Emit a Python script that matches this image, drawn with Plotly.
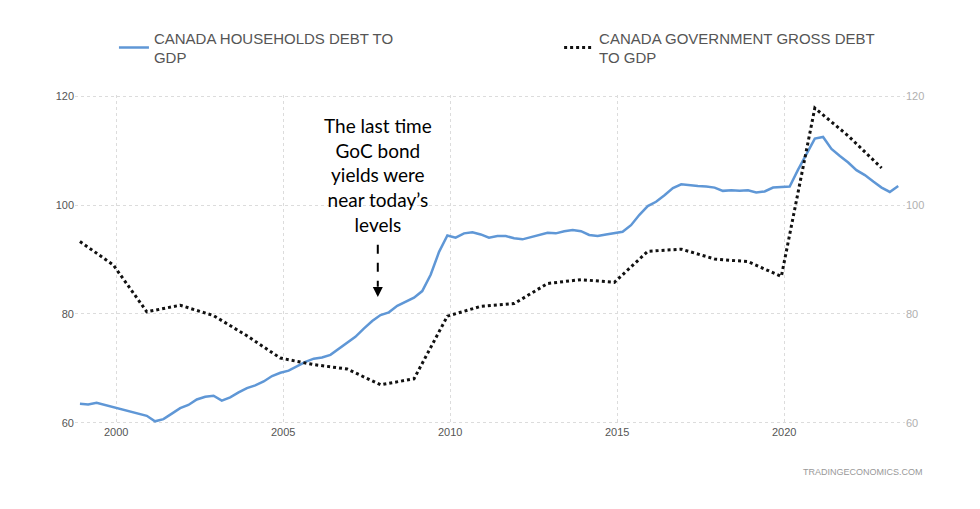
import pandas as pd
import plotly.graph_objects as go

# Canada households debt to GDP (quarterly, %)
household_start = "1998-12-01"
household_debt = [
    63.5, 63.4, 63.7, 63.3, 62.9, 62.5, 62.0, 61.6, 61.3, 60.3,
    60.7, 61.7, 62.7, 63.3, 64.3, 64.8, 65.0, 64.1, 64.7, 65.6,
    66.4, 66.9, 67.6, 68.6, 69.2, 69.6, 70.4, 71.2, 71.8, 72.0,
    72.5, 73.6, 74.8, 75.8, 77.3, 78.7, 79.8, 80.3, 81.5, 82.2,
    83.0, 84.2, 87.2, 91.4, 94.4, 94.0, 94.8, 95.0, 94.6, 94.0,
    94.3, 94.3, 93.9, 93.7, 94.1, 94.6, 94.9, 94.8, 95.2, 95.4,
    95.2, 94.5, 94.3, 94.6, 94.8, 95.1, 96.3, 98.2, 99.8, 100.6,
    101.8, 103.1, 103.8, 103.6, 103.5, 103.4, 103.2, 102.6, 102.7, 102.6,
    102.7, 102.3, 102.5, 103.2, 103.3, 103.4, 106.5, 109.5, 112.2, 112.5,
    110.3, 109.0, 107.8, 106.4, 105.5, 104.3, 103.2, 102.4, 103.5,
]
household_dates = pd.date_range(household_start, periods=len(household_debt), freq="3MS")

# Canada government gross debt to GDP (annual, %)
gov_years = list(range(1998, 2023))
gov_debt = [
    93.3, 89.0, 80.4, 81.6, 79.7, 76.0, 71.9, 70.7, 69.9, 67.0,
    68.1, 79.6, 81.4, 81.9, 85.6, 86.3, 85.8, 91.5, 91.9, 90.1,
    89.6, 86.9, 117.8, 112.7, 106.8,
]
gov_dates = [f"{y}-12-01" for y in gov_years]

y_ticks = [60, 80, 100, 120]
x_ticks = ["2000-01-01", "2005-01-01", "2010-01-01", "2015-01-01", "2020-01-01"]
x_tick_labels = ["2000", "2005", "2010", "2015", "2020"]

name_households = "CANADA HOUSEHOLDS DEBT TO<br>GDP"
name_gov = "CANADA GOVERNMENT GROSS DEBT<br>TO GDP"
note_text = "The last time<br>GoC bond<br>yields were<br>near today\u2019s<br>levels"
note_date = "2007-11-01"

fig = go.Figure()
fig.add_trace(go.Scatter(
    x=household_dates, y=household_debt, mode="lines", name=name_households,
    line=dict(color="#5f97d6", width=2.5), legend="legend",
))
fig.add_trace(go.Scatter(
    x=gov_dates, y=gov_debt, mode="lines", name=name_gov,
    line=dict(color="#111111", width=3, dash="dot"), yaxis="y2", legend="legend2",
))

grid = dict(showgrid=True, gridcolor="#dcdcdc", gridwidth=1, griddash="dot",
            zeroline=False, showline=False, ticks="", automargin=False)

fig.update_layout(
    width=972, height=501,
    margin=dict(l=67, r=75, t=87, b=85, autoexpand=False),
    paper_bgcolor="white", plot_bgcolor="white",
    font=dict(family="Liberation Sans, Arial, sans-serif", color="#555555"),
    xaxis=dict(range=["1998-10-08", "2023-08-14"], tickvals=x_ticks, ticktext=x_tick_labels,
               tickfont=dict(size=11, color="#555555"), **grid),
    yaxis=dict(range=[59.8, 120.2], tickvals=y_ticks, tickfont=dict(size=11, color="#555555"), **grid),
    yaxis2=dict(range=[59.8, 120.2], tickvals=y_ticks, overlaying="y", side="right",
                tickfont=dict(size=11, color="#b0b0b0"), showgrid=False, zeroline=False,
                ticks="", automargin=False),
    legend=dict(xref="container", yref="container", x=0.109, y=0.921,
                xanchor="left", yanchor="middle", orientation="h",
                font=dict(size=15, color="#555555"), itemwidth=30, bgcolor="rgba(0,0,0,0)"),
    legend2=dict(xref="container", yref="container", x=0.567, y=0.921,
                 xanchor="left", yanchor="middle", orientation="h",
                 font=dict(size=15, color="#555555"), itemwidth=30, bgcolor="rgba(0,0,0,0)"),
    showlegend=True,
)

fig.add_annotation(x=note_date, y=105.6, xref="x", yref="y", text=note_text, showarrow=False,
                   font=dict(family="Lato, sans-serif", size=19, color="#000000"), align="center")
fig.add_shape(type="line", xref="x", yref="y", x0=note_date, x1=note_date, y0=92.7, y1=85.0,
              line=dict(color="#000000", width=2, dash="dash"))
fig.add_annotation(x=note_date, y=83.1, xref="x", yref="y", text="", showarrow=True,
                   ax=0, ay=-10, arrowhead=2, arrowsize=1, arrowwidth=2, arrowcolor="#000000", standoff=0)
fig.add_annotation(x=1.024, y=-0.146, xref="paper", yref="paper", xanchor="right", yanchor="middle",
                   text="TRADINGECONOMICS.COM", showarrow=False,
                   font=dict(size=9, color="#999999"))

fig.write_html("out.html")
